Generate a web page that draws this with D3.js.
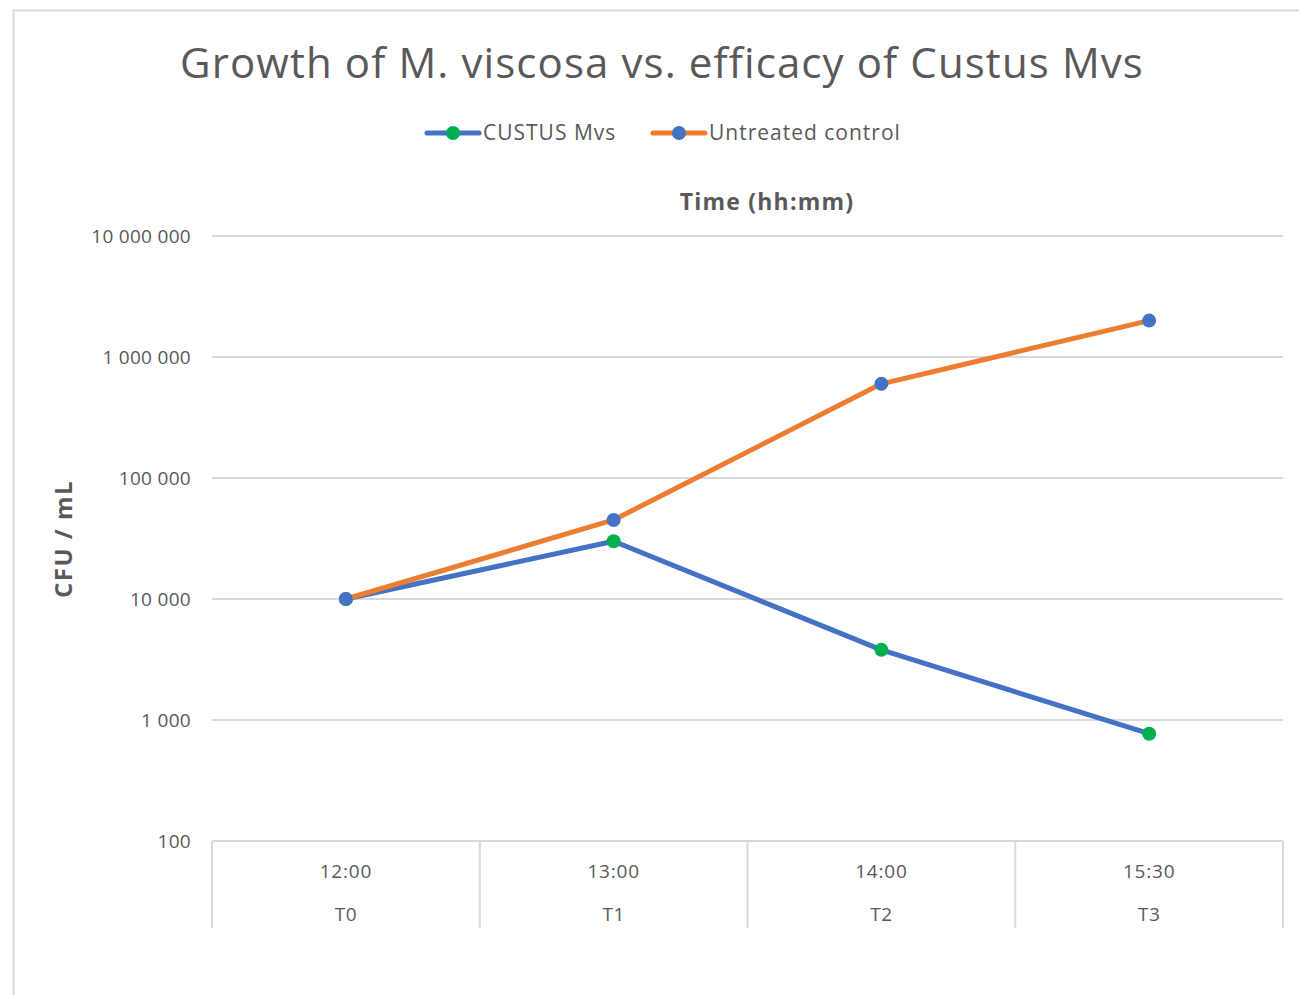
<!DOCTYPE html>
<html>
<head>
<meta charset="utf-8">
<script src="https://cdn.jsdelivr.net/npm/d3@7"></script>
<style>
  body { margin: 0; background: #fff; }
  text { font-family: "Open Sans", "Noto Sans", sans-serif; fill: #595959; }
</style>
</head>
<body>
<script>
// data
var times = ["12:00", "13:00", "14:00", "15:30"];
var phases = ["T0", "T1", "T2", "T3"];
var custus = [10000, 30000, 3800, 770];
var untreated = [10000, 45000, 600000, 2000000];
var yTicks = [100, 1000, 10000, 100000, 1000000, 10000000];

var width = 1299, height = 995;
var margin = {top: 236, right: 16, bottom: 154, left: 212};

var svg = d3.select("body").append("svg")
  .attr("width", width)
  .attr("height", height);

// chart frame
svg.append("path")
  .attr("d", "M13.5," + height + "V10.5H" + width)
  .attr("fill", "none")
  .attr("stroke", "#d9d9d9")
  .attr("stroke-width", 2);

var x = d3.scaleBand()
  .domain(phases)
  .range([margin.left, width - margin.right]);

var y = d3.scaleLog()
  .domain([100, 10000000])
  .range([height - margin.bottom, margin.top]);

var fmt = d3.formatLocale({decimal: ",", thousands: " ", grouping: [3], currency: ["", ""]}).format(",d");

// gridlines
svg.append("g")
  .selectAll("line")
  .data(yTicks)
  .enter().append("line")
  .attr("x1", margin.left)
  .attr("x2", width - margin.right)
  .attr("y1", function(d){ return y(d); })
  .attr("y2", function(d){ return y(d); })
  .attr("stroke", "#d9d9d9")
  .attr("stroke-width", 2);

// y labels
svg.append("g")
  .selectAll("text")
  .data(yTicks)
  .enter().append("text")
  .attr("x", 191)
  .attr("y", function(d){ return y(d) + 7; })
  .attr("text-anchor", "end")
  .style("font-size", "19px")
  .style("letter-spacing", "0.3px")
  .text(function(d){ return fmt(d); });

// category dividers
var bounds = phases.map(function(p){ return x(p); }).concat([x.range()[1]]);
svg.append("g")
  .selectAll("line")
  .data(bounds)
  .enter().append("line")
  .attr("x1", function(d){ return d; })
  .attr("x2", function(d){ return d; })
  .attr("y1", y(100))
  .attr("y2", 928)
  .attr("stroke", "#d9d9d9")
  .attr("stroke-width", 2);

var cx = function(i){ return x(phases[i]) + x.bandwidth() / 2; };

svg.append("g")
  .selectAll("text")
  .data(times)
  .enter().append("text")
  .attr("x", function(d, i){ return cx(i); })
  .attr("y", 878)
  .attr("text-anchor", "middle")
  .style("font-size", "19px")
  .style("letter-spacing", "0.8px")
  .text(function(d){ return d; });

svg.append("g")
  .selectAll("text")
  .data(phases)
  .enter().append("text")
  .attr("x", function(d, i){ return cx(i); })
  .attr("y", 921)
  .attr("text-anchor", "middle")
  .style("font-size", "19px")
  .style("letter-spacing", "0.5px")
  .text(function(d){ return d; });

// series
var series = [
  {name: "CUSTUS Mvs", values: custus, line: "#4472c4", marker: "#00b050"},
  {name: "Untreated control", values: untreated, line: "#ed7d31", marker: "#4472c4"}
];

var line = d3.line()
  .x(function(d, i){ return cx(i); })
  .y(function(d){ return y(d); });

series.forEach(function(s){
  var g = svg.append("g");
  g.append("path")
    .attr("d", line(s.values))
    .attr("fill", "none")
    .attr("stroke", s.line)
    .attr("stroke-width", 5)
    .attr("stroke-linejoin", "round")
    .attr("stroke-linecap", "round");
  g.selectAll("circle")
    .data(s.values)
    .enter().append("circle")
    .attr("cx", function(d, i){ return cx(i); })
    .attr("cy", function(d){ return y(d); })
    .attr("r", 7)
    .attr("fill", s.marker);
});

// title
svg.append("text")
  .attr("x", 662)
  .attr("y", 78)
  .attr("text-anchor", "middle")
  .style("font-size", "42px")
  .style("letter-spacing", "1.1px")
  .text("Growth of M. viscosa vs. efficacy of Custus Mvs");

// legend
var legX = [427, 653];
series.forEach(function(s, i){
  var g = svg.append("g").attr("transform", "translate(" + legX[i] + ",133)");
  g.append("line")
    .attr("x1", 0).attr("x2", 52)
    .attr("stroke", s.line)
    .attr("stroke-width", 5)
    .attr("stroke-linecap", "round");
  g.append("circle")
    .attr("cx", 26).attr("r", 7)
    .attr("fill", s.marker);
  g.append("text")
    .attr("x", 56)
    .attr("y", 7)
    .style("font-size", "21px")
    .style("letter-spacing", "1px")
    .text(s.name);
});

// axis titles
svg.append("text")
  .attr("x", 767)
  .attr("y", 210)
  .attr("text-anchor", "middle")
  .style("font-size", "23px")
  .style("letter-spacing", "1.2px")
  .style("font-weight", "bold")
  .text("Time (hh:mm)");

svg.append("text")
  .attr("transform", "translate(72,539) rotate(-90)")
  .attr("text-anchor", "middle")
  .style("font-size", "24px")
  .style("letter-spacing", "1.5px")
  .style("font-weight", "bold")
  .text("CFU / mL");
</script>
</body>
</html>
